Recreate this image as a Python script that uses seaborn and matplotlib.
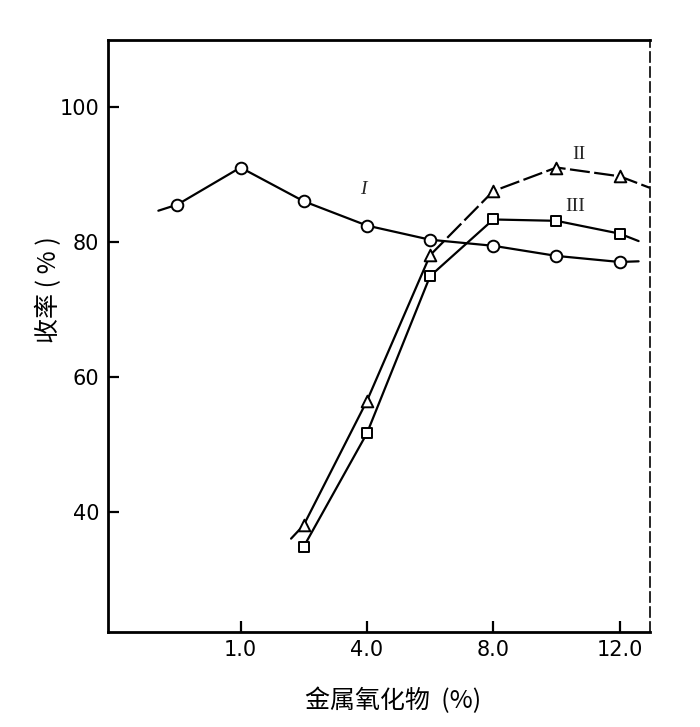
import matplotlib
matplotlib.use("Agg")
import matplotlib.pyplot as plt
import seaborn as sns
import pandas as pd

# ---- data ----
x_ticks = [0, 4, 8, 12]
x_tick_labels = ["1.0", "4.0", "8.0", "12.0"]
y_ticks = [40, 60, 80, 100]

curve_I_x = [-2, 0, 2, 4, 6, 8, 10, 12]
curve_I_y = [85.5, 91.0, 86.0, 82.4, 80.3, 79.4, 77.9, 77.0]
curve_I_line_x = [-2.6] + curve_I_x + [12.6]
curve_I_line_y = [84.6] + curve_I_y + [77.1]

curve_II_x = [2, 4, 6, 8, 10, 12]
curve_II_y = [38.0, 56.4, 78.0, 87.5, 91.0, 89.7]
curve_II_line_x = [1.6] + curve_II_x + [12.95]
curve_II_line_y = [36.0] + curve_II_y + [88.0]

curve_III_x = [2, 4, 6, 8, 10, 12]
curve_III_y = [34.8, 51.6, 74.9, 83.3, 83.1, 81.2]
curve_III_line_x = curve_III_x + [12.6]
curve_III_line_y = curve_III_y + [80.1]

labels = ["I", "II", "III"]
label_x = [3.9, 10.7, 10.6]
label_y = [87.8, 92.9, 85.2]

sns.set_style("white")
plt.rcParams["font.family"] = ["DejaVu Sans", "Noto Sans CJK SC"]

fig = plt.figure(figsize=(7.0, 7.27), dpi=100)
ax = fig.add_axes([0.154, 0.131, 0.775, 0.814])

lw = 1.6
# lines
sns.lineplot(x=curve_I_line_x, y=curve_I_line_y, ax=ax, color="black", lw=lw, sort=False)
sns.lineplot(x=curve_II_line_x[:4], y=curve_II_line_y[:4], ax=ax, color="black", lw=lw, sort=False)
sns.lineplot(x=curve_II_line_x[3:], y=curve_II_line_y[3:], ax=ax, color="black", lw=lw, sort=False)
ax.lines[-1].set_dashes((9, 2))
sns.lineplot(x=curve_III_line_x, y=curve_III_line_y, ax=ax, color="black", lw=lw, sort=False)

# markers
ms = 70
sns.scatterplot(x=curve_I_x, y=curve_I_y, ax=ax, marker="o", s=ms, facecolor="white",
                edgecolor="black", linewidth=1.4, zorder=5)
sns.scatterplot(x=curve_II_x, y=curve_II_y, ax=ax, marker="^", s=ms, facecolor="white",
                edgecolor="black", linewidth=1.4, zorder=5)
sns.scatterplot(x=curve_III_x, y=curve_III_y, ax=ax, marker="s", s=55, facecolor="white",
                edgecolor="black", linewidth=1.4, zorder=5)

for t, lx, ly in zip(labels, label_x, label_y):
    ax.text(lx, ly, t, fontsize=14, family="Liberation Serif",
            style="italic" if t == "I" else "normal", ha="center", va="center")

ax.set_xlim(-4.2, 12.97)
ax.set_ylim(22.2, 109.9)
ax.set_xticks(x_ticks)
ax.set_xticklabels(x_tick_labels)
ax.set_yticks(y_ticks)
ax.tick_params(axis="both", direction="in", length=8, width=1.6, labelsize=15, pad=6,
               bottom=True, left=True, colors="black", labelcolor="black")

for side in ["left", "bottom", "top", "right"]:
    ax.spines[side].set_color("black")
    ax.spines[side].set_linewidth(2.0)
ax.spines["right"].set_linestyle((0, (6, 3)))
ax.spines["right"].set_linewidth(1.2)

ax.set_ylabel("收率 ( % )", fontsize=18, family=["Noto Sans CJK SC", "DejaVu Sans"], color="black")
ax.set_xlabel("金属氧化物  (%)", fontsize=18, family=["Noto Sans CJK SC", "DejaVu Sans"], color="black")
ax.yaxis.set_label_coords(-0.085, 0.578)
ax.xaxis.set_label_coords(0.526, -0.095)

fig.savefig("out.png", dpi=100)
